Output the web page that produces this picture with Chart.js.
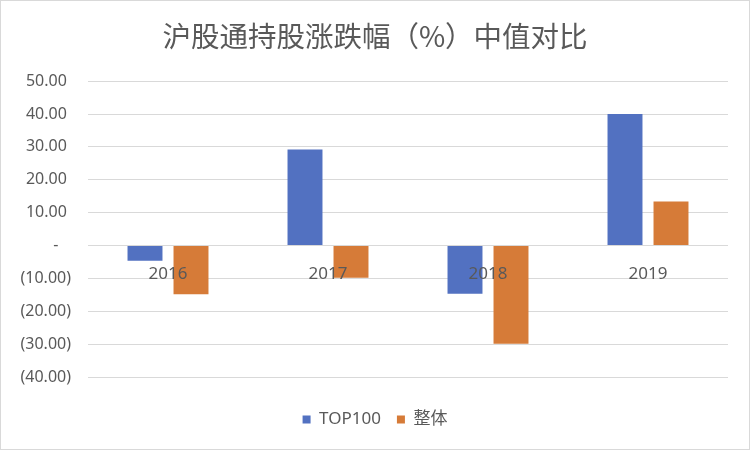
<!DOCTYPE html>
<html>
<head>
<meta charset="utf-8">
<script src="https://cdn.jsdelivr.net/npm/chart.js@4"></script>
<style>
  body { margin: 0; background: #fff; }
  #wrap { width: 750px; height: 450px; box-sizing: border-box; border: 1px solid #d9d9d9; }
</style>
</head>
<body>
<div id="wrap"><canvas id="chart" width="748" height="448"></canvas></div>
<script>
const years = ['2016', '2017', '2018', '2019'];
const top100 = [-4.6, 29.2, -14.7, 40.0];
const overall = [-14.8, -9.8, -29.9, 13.4];
const yTicks = { min: -40, max: 50, step: 10 };

const FONT = '"Noto Sans", "Noto Sans CJK SC", sans-serif';
const TEXT = '#595959';

// excel accounting style: "-" for zero, brackets for negatives
const acct = v => {
  if (v === 0) return '-   ';
  if (v < 0) return `(${Math.abs(v).toFixed(2)})`;
  return v.toFixed(2) + ' ';
};

new Chart(document.getElementById('chart'), {
  type: 'bar',
  data: {
    labels: years,
    datasets: [
      { label: 'TOP100', data: top100, backgroundColor: '#5271C1' },
      { label: '整体', data: overall, backgroundColor: '#D67B38' },
    ],
  },
  options: {
    responsive: false,
    animation: false,
    categoryPercentage: 0.575,
    barPercentage: 0.76,
    layout: { padding: { left: 0, right: 0, top: 0, bottom: 11 } },
    plugins: {
      title: {
        display: true,
        text: '沪股通持股涨跌幅（%）中值对比',
        color: TEXT,
        font: { family: '"Noto Sans CJK SC", sans-serif', size: 28.5, weight: 'normal' },
        padding: { top: 18, bottom: 28 },
      },
      legend: {
        position: 'bottom',
        title: { display: true, text: '', font: { size: 10 }, padding: { top: 6, bottom: 0 } },
        labels: {
          color: TEXT,
          font: { family: FONT, size: 17 },
          boxWidth: 8,
          boxHeight: 8,
          padding: 16,
        },
      },
      tooltip: { enabled: false },
    },
    scales: {
      x: {
        position: { y: 0 },
        grid: { display: false },
        border: { display: false },
        ticks: { z: 1, color: TEXT, font: { family: FONT, size: 17 }, padding: 10 },
      },
      y: {
        min: yTicks.min,
        max: yTicks.max,
        grid: { color: '#d9d9d9', drawTicks: false },
        border: { display: false },
        ticks: { stepSize: yTicks.step, color: TEXT, font: { family: FONT, size: 16 }, padding: 17, callback: acct },
        afterFit: s => { s.width = 87; },
      },
      // empty right gutter so the title and legend stay centred on the whole canvas
      yRight: {
        position: 'right',
        grid: { display: false },
        border: { display: false },
        ticks: { display: false },
        afterFit: s => { s.width = 21; },
      },
    },
  },
});
</script>
</body>
</html>
